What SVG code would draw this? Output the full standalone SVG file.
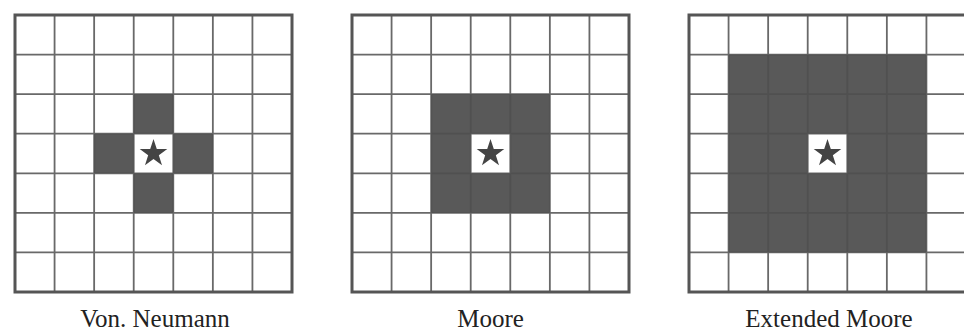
<svg xmlns="http://www.w3.org/2000/svg" xmlns:xlink="http://www.w3.org/1999/xlink" width="964" height="331" viewBox="0 0 964 331">
<style>
.dark{fill:#595959}
.cen{fill:#ffffff}
.ln{stroke:#4f4f4f;stroke-width:1.8;fill:none;stroke-opacity:0.85}
.bd{stroke:#555555;stroke-width:3;fill:none}
.star{fill:#444444}
.lbl{font-family:"Liberation Serif","Times New Roman",serif;font-size:25px;fill:#222222;text-anchor:middle}
</style>
<defs>
<g id="grid">
<path class="ln" d="M39.57 0V277M79.14 0V277M118.71 0V277M158.29 0V277M197.86 0V277M237.43 0V277M0 39.57H277M0 79.14H277M0 118.71H277M0 158.29H277M0 197.86H277M0 237.43H277"/>
<rect class="bd" x="0" y="0" width="277" height="277"/>
</g>
<polygon id="star" class="star" points="0,-14.5 3.29,-4.53 13.79,-4.48 5.33,1.73 8.52,11.73 0,5.6 -8.52,11.73 -5.33,1.73 -13.79,-4.48 -3.29,-4.53"/>
</defs>
<rect width="964" height="331" fill="#ffffff"/>
<g id="von-neumann" transform="translate(15,15)">
<rect class="dark" x="118.71" y="79.14" width="39.57" height="39.57"/>
<rect class="dark" x="79.14" y="118.71" width="39.57" height="39.57"/>
<rect class="dark" x="158.29" y="118.71" width="39.57" height="39.57"/>
<rect class="dark" x="118.71" y="158.29" width="39.57" height="39.57"/>
<use xlink:href="#grid"/>
<use xlink:href="#star" x="138.5" y="138.5"/>
<text class="lbl" x="140" y="312">Von. Neumann</text>
</g>
<g id="moore" transform="translate(352,15)">
<rect class="dark" x="79.14" y="79.14" width="118.72" height="118.72"/>
<rect class="cen" x="118.71" y="118.71" width="39.57" height="39.57"/>
<use xlink:href="#grid"/>
<use xlink:href="#star" x="138.5" y="138.5"/>
<text class="lbl" x="138.5" y="312">Moore</text>
</g>
<g id="extended-moore" transform="translate(689,15)">
<rect class="dark" x="39.57" y="39.57" width="197.86" height="197.86"/>
<rect class="cen" x="118.71" y="118.71" width="39.57" height="39.57"/>
<use xlink:href="#grid"/>
<use xlink:href="#star" x="138.5" y="138.5"/>
<text class="lbl" x="140" y="312">Extended Moore</text>
</g>
<g id="connectors"/>
</svg>
